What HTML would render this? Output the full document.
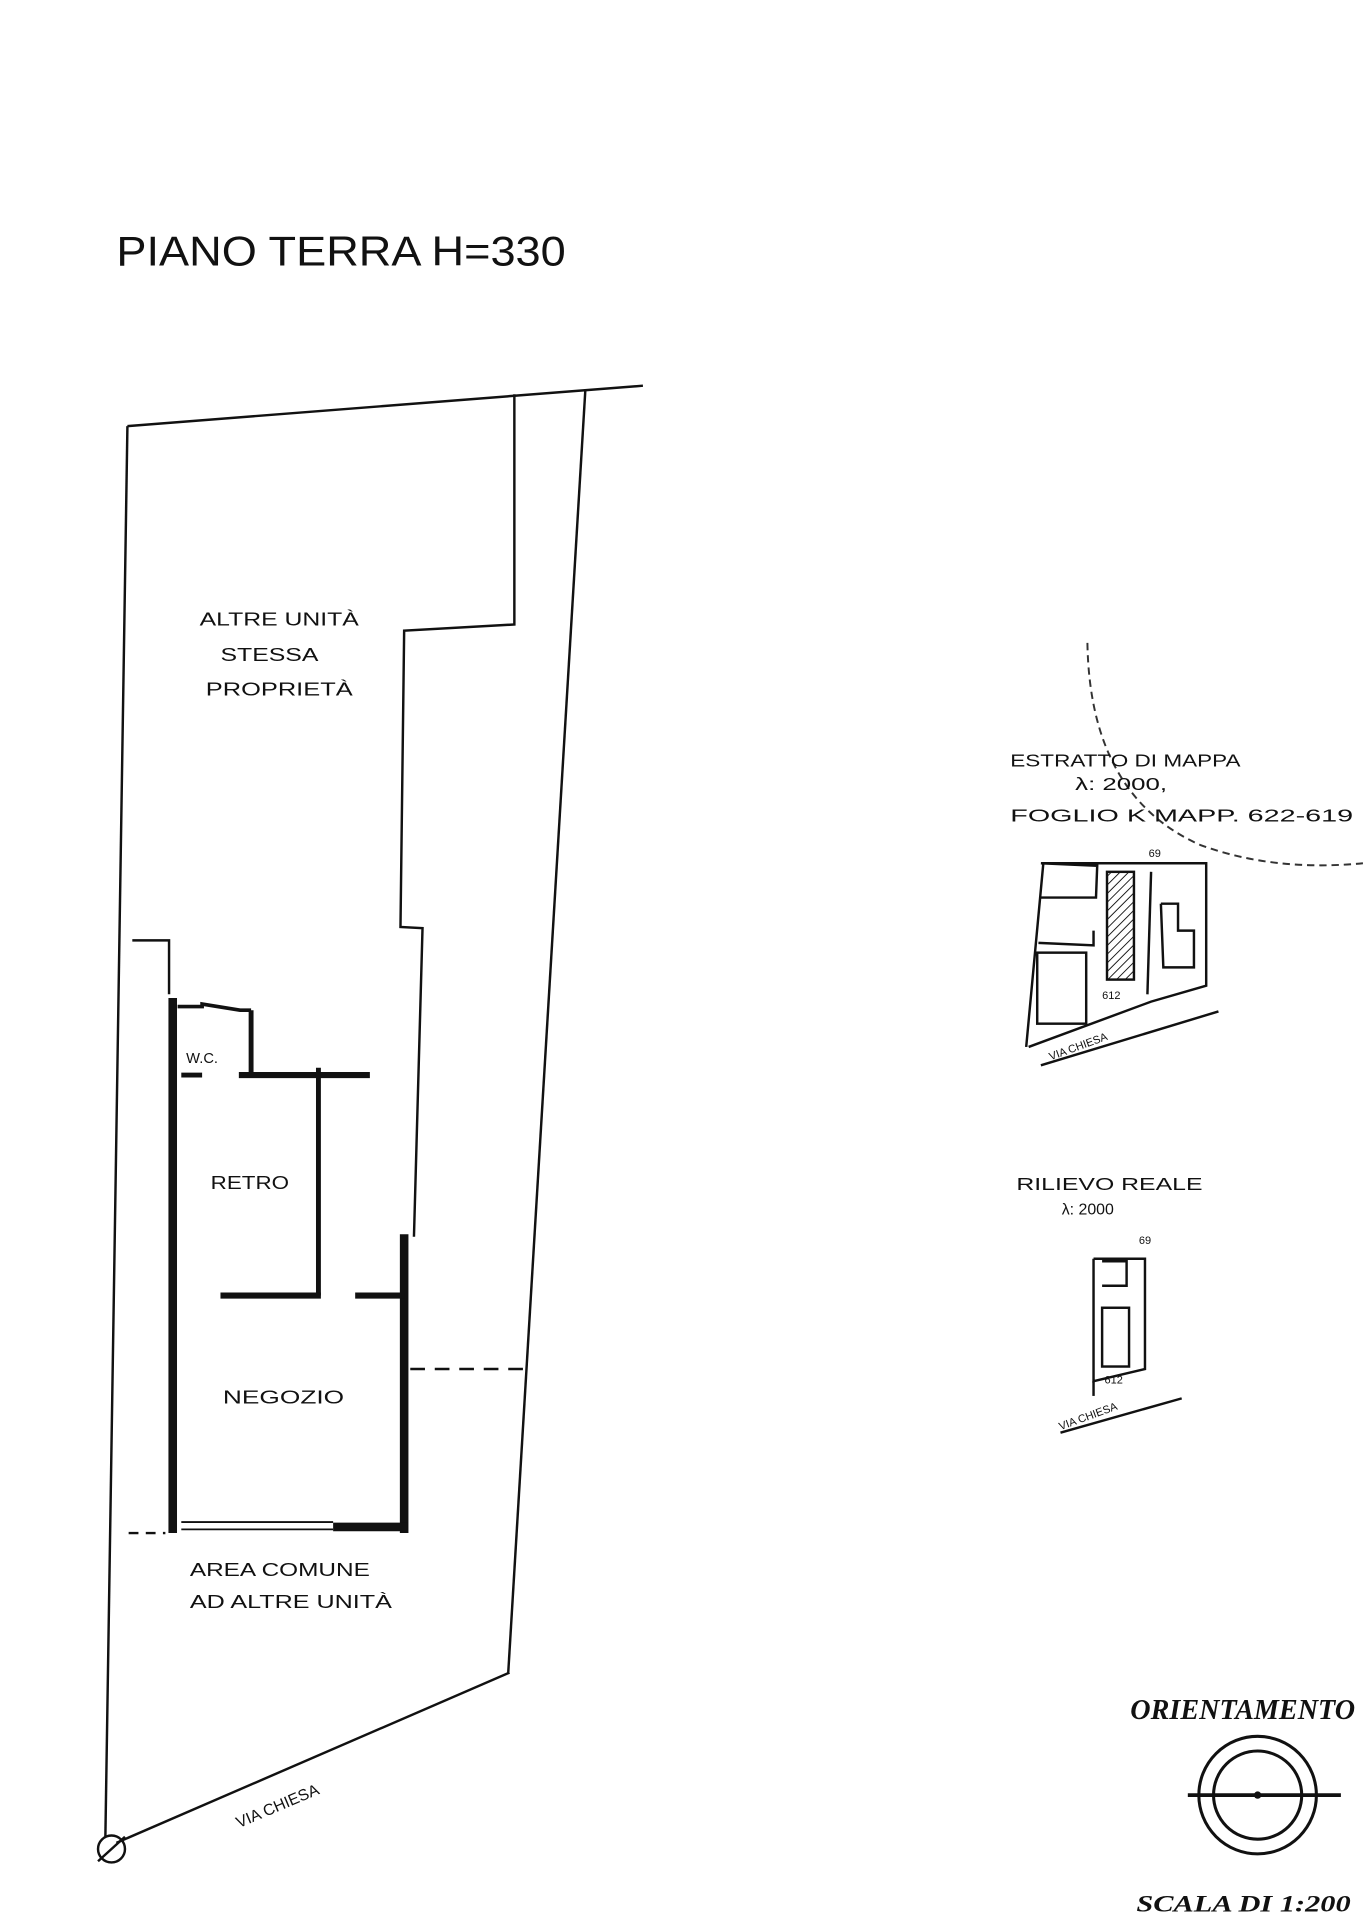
<!DOCTYPE html>
<html><head><meta charset="utf-8"><style>
html,body{margin:0;padding:0;background:#fff;}
svg{display:block;}
text{font-family:"Liberation Sans",sans-serif;fill:#111;}
.s{font-family:"Liberation Serif",serif;font-weight:bold;font-style:italic;}
</style></head><body>
<svg width="1363" height="1920" viewBox="0 0 1113 1568" xmlns="http://www.w3.org/2000/svg">
<rect width="1113" height="1568" fill="#fff"/>
<g stroke="#111" fill="none" stroke-width="2">
<polyline points="104,348 525,315"/>
<line x1="104" y1="348" x2="86" y2="1500"/>
<line x1="95" y1="1505" x2="416" y2="1366"/>
<line x1="478" y1="318" x2="415" y2="1366"/>
<polyline points="420,322 420,510 330,515 327,757 345,758 338,1010"/>
<polyline points="108,768 138,768 138,812"/>
<line x1="105" y1="1252" x2="135" y2="1252" stroke-dasharray="8,6"/>
<line x1="335" y1="1118" x2="430" y2="1118" stroke-dasharray="12,8"/>
<circle cx="91" cy="1510" r="11"/>
<line x1="80" y1="1520" x2="102" y2="1500"/>
</g>
<g stroke="#111" fill="none">
<line x1="141" y1="815" x2="141" y2="1252" stroke-width="7"/>
<line x1="330" y1="1008" x2="330" y2="1252" stroke-width="7"/>
<line x1="272" y1="1247" x2="333" y2="1247" stroke-width="7"/>
<line x1="148" y1="1243" x2="272" y2="1243" stroke-width="1.5"/>
<line x1="148" y1="1249" x2="272" y2="1249" stroke-width="1.5"/>
<polyline points="145,822 165,822 165,820 196,825 205,825" stroke-width="3"/>
<line x1="205" y1="825" x2="205" y2="878" stroke-width="4"/>
<line x1="148" y1="878" x2="165" y2="878" stroke-width="4"/>
<line x1="195" y1="878" x2="302" y2="878" stroke-width="5"/>
<line x1="260" y1="872" x2="260" y2="1058" stroke-width="4"/>
<line x1="180" y1="1058" x2="262" y2="1058" stroke-width="5"/>
<line x1="290" y1="1058" x2="330" y2="1058" stroke-width="5"/>
</g>
<text x="95" y="217" font-size="34" textLength="367" lengthAdjust="spacingAndGlyphs">PIANO TERRA H=330</text>
<g font-size="15">
<text x="163" y="511" textLength="130" lengthAdjust="spacingAndGlyphs">ALTRE UNITÀ</text>
<text x="180" y="540" textLength="80" lengthAdjust="spacingAndGlyphs">STESSA</text>
<text x="168" y="568" textLength="120" lengthAdjust="spacingAndGlyphs">PROPRIETÀ</text>
<text x="172" y="971" textLength="64" lengthAdjust="spacingAndGlyphs">RETRO</text>
<text x="152" y="868" font-size="12">W.C.</text>
<text x="182" y="1146" textLength="99" lengthAdjust="spacingAndGlyphs">NEGOZIO</text>
<text x="155" y="1287" textLength="147" lengthAdjust="spacingAndGlyphs">AREA   COMUNE</text>
<text x="155" y="1313" textLength="165" lengthAdjust="spacingAndGlyphs">AD  ALTRE UNITÀ</text>
<text x="195" y="1493" font-size="13" transform="rotate(-23 195 1493)">VIA  CHIESA</text>
</g>
<path d="M888,525 Q890,650 980,690 Q1040,712 1113,705" stroke="#333" stroke-width="1.6" fill="none" stroke-dasharray="6,4"/>
<g font-size="14">
<text x="825" y="626" textLength="188" lengthAdjust="spacingAndGlyphs">ESTRATTO DI MAPPA</text>
<text x="878" y="645" textLength="75" lengthAdjust="spacingAndGlyphs">λ: 2000,</text>
<text x="825" y="671" textLength="280" lengthAdjust="spacingAndGlyphs">FOGLIO   K   MAPP. 622-619</text>
<text x="830" y="972" textLength="152" lengthAdjust="spacingAndGlyphs">RILIEVO  REALE</text>
<text x="867" y="992" font-size="13">λ: 2000</text>
</g>
<defs><pattern id="h" width="5" height="5" patternUnits="userSpaceOnUse" patternTransform="rotate(45)"><line x1="0" y1="0" x2="0" y2="5" stroke="#111" stroke-width="1.5"/></pattern></defs>
<g stroke="#111" fill="none" stroke-width="2">
<polyline points="838,855 852,705 985,705 985,805 940,818 840,855"/>
<polyline points="850,705 896,707 895,733 850,733"/>
<polyline points="848,770 893,772 893,760"/>
<rect x="904" y="712" width="22" height="88" fill="url(#h)"/>
<rect x="847" y="778" width="40" height="58"/>
<polyline points="940,712 937,812"/>
<polyline points="948,738 962,738 962,760 975,760 975,790 950,790 948,738"/>
<line x1="850" y1="870" x2="995" y2="826"/>
<polyline points="893,1028 893,1128 935,1118 935,1028 893,1028"/>
<polyline points="900,1030 920,1030 920,1050 900,1050"/>
<rect x="900" y="1068" width="22" height="48"/>
<line x1="866" y1="1170" x2="965" y2="1142"/>
<line x1="893" y1="1128" x2="893" y2="1140"/>
</g>
<g font-size="9">
<text x="900" y="816">612</text><text x="938" y="700">69</text>
<text x="858" y="866" transform="rotate(-20 858 866)">VIA CHIESA</text>
<text x="930" y="1016">69</text><text x="902" y="1130">612</text>
<text x="866" y="1168" transform="rotate(-20 866 1168)">VIA CHIESA</text>
</g>
<text class="s" x="923" y="1404" font-size="23">ORIENTAMENTO</text>
<g stroke="#111" fill="none" stroke-width="2.5">
<circle cx="1027" cy="1466" r="48"/>
<circle cx="1027" cy="1466" r="36"/>
<line x1="970" y1="1466" x2="1095" y2="1466" stroke-width="3"/>
</g>
<circle cx="1027" cy="1466" r="3" fill="#111"/>
<text class="s" x="928" y="1561" font-size="19" textLength="175" lengthAdjust="spacingAndGlyphs">SCALA DI 1:200</text>
</svg>
</body></html>
